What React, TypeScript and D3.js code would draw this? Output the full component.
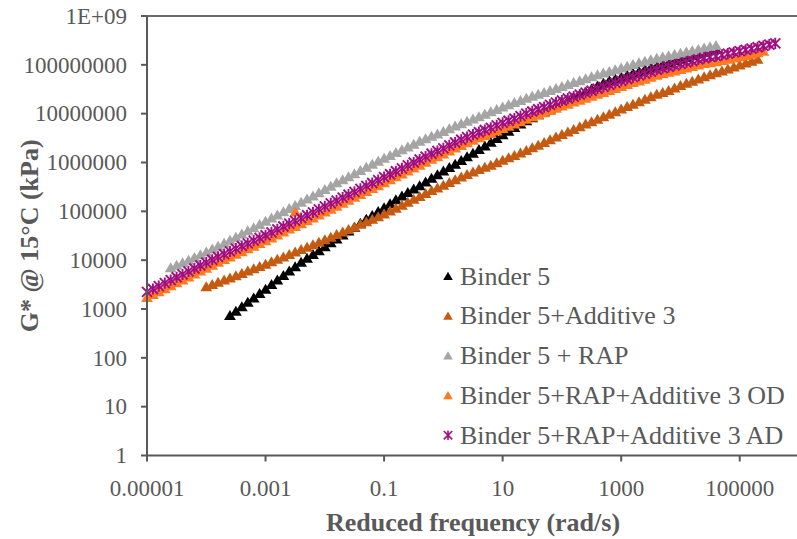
import React from "react";
import * as d3 from "d3";

const W = 797;
const H = 539;

const xTickValues = [1e-5, 1e-3, 1e-1, 10, 1000, 100000];
const xTickLabels = ["0.00001", "0.001", "0.1", "10", "1000", "100000"];
const yTickValues = [1, 10, 100, 1000, 1e4, 1e5, 1e6, 1e7, 1e8, 1e9];
const yTickLabels = ["1", "10", "100", "1000", "10000", "100000", "1000000", "10000000", "100000000", "1E+09"];

const seriesNames = [
  "Binder 5",
  "Binder 5+Additive 3",
  "Binder 5 + RAP",
  "Binder 5+RAP+Additive 3 OD",
  "Binder 5+RAP+Additive 3 AD",
];
const seriesColors = ["#000000", "#C55A11", "#A5A5A5", "#FF7A1F", "#A30D80"];
const seriesMarkers = ["triangle", "triangle", "triangle", "triangle", "asterisk"];

// reduced frequencies of the test sweep (rad/s), ten per decade
const freqGrid = [
  1e-5, 1.26e-5, 1.58e-5, 2e-5, 2.51e-5, 3.16e-5, 3.98e-5, 5.01e-5, 6.31e-5, 7.94e-5,
  1e-4, 1.26e-4, 1.58e-4, 2e-4, 2.51e-4, 3.16e-4, 3.98e-4, 5.01e-4, 6.31e-4, 7.94e-4,
  1e-3, 1.26e-3, 1.58e-3, 2e-3, 2.51e-3, 3.16e-3, 3.98e-3, 5.01e-3, 6.31e-3, 7.94e-3,
  0.01, 0.0126, 0.0158, 0.02, 0.0251, 0.0316, 0.0398, 0.0501, 0.0631, 0.0794,
  0.1, 0.126, 0.158, 0.2, 0.251, 0.316, 0.398, 0.501, 0.631, 0.794,
  1, 1.26, 1.58, 2, 2.51, 3.16, 3.98, 5.01, 6.31, 7.94,
  10, 12.6, 15.8, 20, 25.1, 31.6, 39.8, 50.1, 63.1, 79.4,
  100, 126, 158, 200, 251, 316, 398, 501, 631, 794,
  1000, 1260, 1580, 2000, 2510, 3160, 3980, 5010, 6310, 7940,
  1e4, 1.26e4, 1.58e4, 2e4, 2.51e4, 3.16e4, 3.98e4, 5.01e4, 6.31e4, 7.94e4,
  1e5, 1.26e5, 1.58e5, 2e5, 2.51e5, 3.16e5, 3.98e5,
];

// Binder 5 (2.51e-4 .. 3.98e4 rad/s)
const binder5Freq = freqGrid.slice(14, 97);
const binder5G = [
  7.41e2, 9.12e2, 1.12e3, 1.38e3, 1.7e3, 2.09e3, 2.57e3, 3.2e3, 3.98e3, 4.9e3,
  6.03e3, 7.41e3, 9.12e3, 1.1e4, 1.32e4, 1.58e4, 1.91e4, 2.29e4, 2.75e4, 3.31e4,
  3.98e4, 4.79e4, 5.75e4, 6.92e4, 8.32e4, 1.0e5, 1.2e5, 1.45e5, 1.74e5, 2.07e5,
  2.45e5, 2.88e5, 3.39e5, 4.03e5, 4.79e5, 5.69e5, 6.76e5, 7.94e5, 9.33e5, 1.11e6,
  1.32e6, 1.57e6, 1.86e6, 2.21e6, 2.63e6, 3.13e6, 3.72e6, 4.42e6, 5.25e6, 6.17e6,
  7.24e6, 8.32e6, 9.55e6, 1.1e7, 1.26e7, 1.45e7, 1.66e7, 1.88e7, 2.14e7, 2.45e7,
  2.82e7, 3.24e7, 3.72e7, 4.22e7, 4.79e7, 5.19e7, 5.62e7, 6.17e7, 6.76e7, 7.41e7,
  8.13e7, 8.81e7, 9.55e7, 1.04e8, 1.12e8, 1.22e8, 1.32e8, 1.43e8, 1.55e8, 1.68e8,
  1.82e8, 1.95e8, 2.09e8,
];

// Binder 5 + Additive 3 (1e-4 .. 2e5 rad/s)
const additiveFreq = freqGrid.slice(10, 104);
const additiveG = [
  2.88e3, 3.2e3, 3.55e3, 3.94e3, 4.37e3, 4.84e3, 5.37e3, 6.03e3, 6.76e3, 7.5e3,
  8.32e3, 9.33e3, 1.05e4, 1.17e4, 1.32e4, 1.48e4, 1.66e4, 1.86e4, 2.09e4, 2.34e4,
  2.63e4, 2.99e4, 3.39e4, 3.8e4, 4.27e4, 4.84e4, 5.5e4, 6.17e4, 6.92e4, 7.85e4,
  8.91e4, 1.02e5, 1.17e5, 1.35e5, 1.55e5, 1.78e5, 2.04e5, 2.34e5, 2.69e5, 3.05e5,
  3.47e5, 3.94e5, 4.47e5, 5.07e5, 5.75e5, 6.46e5, 7.24e5, 8.04e5, 8.91e5, 1.0e6,
  1.12e6, 1.26e6, 1.41e6, 1.58e6, 1.78e6, 2.02e6, 2.29e6, 2.6e6, 2.95e6, 3.35e6,
  3.8e6, 4.27e6, 4.79e6, 5.43e6, 6.17e6, 6.92e6, 7.76e6, 8.71e6, 9.77e6, 1.11e7,
  1.26e7, 1.41e7, 1.58e7, 1.78e7, 2.0e7, 2.24e7, 2.51e7, 2.75e7, 3.02e7, 3.39e7,
  3.8e7, 4.22e7, 4.68e7, 5.19e7, 5.75e7, 6.31e7, 6.92e7, 7.59e7, 8.32e7, 9.12e7,
  1.0e8, 1.1e8, 1.2e8, 1.32e8,
];

// Binder 5 + RAP (2.51e-5 .. 3.98e4 rad/s)
const rapFreq = freqGrid.slice(4, 97);
const rapG = [
  7.08e3, 7.94e3, 8.91e3, 1.01e4, 1.15e4, 1.3e4, 1.48e4, 1.7e4, 1.95e4, 2.24e4,
  2.57e4, 2.99e4, 3.47e4, 4.03e4, 4.68e4, 5.43e4, 6.31e4, 7.33e4, 8.51e4, 9.89e4,
  1.15e5, 1.33e5, 1.55e5, 1.8e5, 2.09e5, 2.43e5, 2.82e5, 3.31e5, 3.89e5, 4.47e5,
  5.13e5, 5.96e5, 6.92e5, 8.04e5, 9.33e5, 1.07e6, 1.23e6, 1.41e6, 1.62e6, 1.84e6,
  2.09e6, 2.4e6, 2.75e6, 3.09e6, 3.47e6, 3.89e6, 4.37e6, 4.95e6, 5.62e6, 6.31e6,
  7.08e6, 7.85e6, 8.71e6, 9.77e6, 1.1e7, 1.23e7, 1.38e7, 1.53e7, 1.7e7, 1.88e7,
  2.09e7, 2.29e7, 2.51e7, 2.75e7, 3.02e7, 3.31e7, 3.63e7, 3.98e7, 4.37e7, 4.79e7,
  5.25e7, 5.75e7, 6.31e7, 6.84e7, 7.41e7, 8.04e7, 8.71e7, 9.44e7, 1.02e8, 1.11e8,
  1.2e8, 1.29e8, 1.38e8, 1.46e8, 1.55e8, 1.64e8, 1.74e8, 1.84e8, 1.95e8, 2.09e8,
  2.24e8, 2.37e8, 2.51e8,
];

// Binder 5 + RAP + Additive 3 OD (1e-5 .. 2.51e5 rad/s) plus one stray point
const odFreq = [...freqGrid.slice(0, 105), 3.2e-3];
const odG = [
  1.74e3, 2.0e3, 2.29e3, 2.63e3, 3.02e3, 3.47e3, 3.98e3, 4.57e3, 5.25e3, 6.03e3,
  6.92e3, 7.94e3, 9.12e3, 1.04e4, 1.17e4, 1.33e4, 1.51e4, 1.72e4, 1.95e4, 2.21e4,
  2.51e4, 2.88e4, 3.31e4, 3.8e4, 4.37e4, 4.95e4, 5.62e4, 6.46e4, 7.41e4, 8.51e4,
  9.77e4, 1.12e5, 1.29e5, 1.48e5, 1.7e5, 1.95e5, 2.24e5, 2.57e5, 2.95e5, 3.39e5,
  3.89e5, 4.47e5, 5.13e5, 5.89e5, 6.76e5, 7.76e5, 8.91e5, 1.02e6, 1.17e6, 1.33e6,
  1.51e6, 1.74e6, 2.0e6, 2.26e6, 2.57e6, 2.88e6, 3.24e6, 3.59e6, 3.98e6, 4.47e6,
  5.01e6, 5.56e6, 6.17e6, 6.92e6, 7.76e6, 8.61e6, 9.55e6, 1.06e7, 1.17e7, 1.3e7,
  1.45e7, 1.58e7, 1.74e7, 1.91e7, 2.09e7, 2.29e7, 2.51e7, 2.75e7, 3.02e7, 3.31e7,
  3.63e7, 3.98e7, 4.37e7, 4.73e7, 5.13e7, 5.62e7, 6.17e7, 6.61e7, 7.08e7, 7.59e7,
  8.13e7, 8.71e7, 9.33e7, 1.0e8, 1.07e8, 1.12e8, 1.17e8, 1.24e8, 1.32e8, 1.4e8,
  1.48e8, 1.57e8, 1.66e8, 1.78e8, 1.91e8,
  9.8e4,
];

// Binder 5 + RAP + Additive 3 AD (1e-5 .. 3.98e5 rad/s)
const adFreq = freqGrid.slice(0, 107);
const adG = [
  2.24e3, 2.57e3, 2.95e3, 3.39e3, 3.89e3, 4.47e3, 5.13e3, 5.89e3, 6.76e3, 7.76e3,
  8.91e3, 1.02e4, 1.17e4, 1.33e4, 1.51e4, 1.72e4, 1.95e4, 2.21e4, 2.51e4, 2.85e4,
  3.24e4, 3.72e4, 4.27e4, 4.9e4, 5.62e4, 6.38e4, 7.24e4, 8.32e4, 9.55e4, 1.1e5,
  1.26e5, 1.45e5, 1.66e5, 1.91e5, 2.19e5, 2.51e5, 2.88e5, 3.31e5, 3.8e5, 4.37e5,
  5.01e5, 5.75e5, 6.61e5, 7.59e5, 8.71e5, 1.0e6, 1.15e6, 1.32e6, 1.51e6, 1.72e6,
  1.95e6, 2.24e6, 2.57e6, 2.92e6, 3.31e6, 3.72e6, 4.17e6, 4.62e6, 5.13e6, 5.75e6,
  6.46e6, 7.16e6, 7.94e6, 8.91e6, 1.0e7, 1.11e7, 1.23e7, 1.36e7, 1.51e7, 1.68e7,
  1.86e7, 2.04e7, 2.24e7, 2.45e7, 2.69e7, 2.95e7, 3.24e7, 3.55e7, 3.89e7, 4.27e7,
  4.68e7, 5.13e7, 5.62e7, 6.1e7, 6.61e7, 7.24e7, 7.94e7, 8.51e7, 9.12e7, 9.77e7,
  1.05e8, 1.12e8, 1.2e8, 1.29e8, 1.38e8, 1.45e8, 1.51e8, 1.6e8, 1.7e8, 1.8e8,
  1.91e8, 2.02e8, 2.14e8, 2.29e8, 2.45e8, 2.6e8, 2.75e8,
];

const seriesFreq = [binder5Freq, additiveFreq, rapFreq, odFreq, adFreq];
const seriesG = [binder5G, additiveG, rapG, odG, adG];

const plot = { left: 147, right: 799, top: 16, bottom: 455.5 };
const axisColor = "#595959";
const textColor = "#595959";
const font = "'Liberation Serif', 'Times New Roman', serif";

const TRI = "M0,-5.3L5.9,4.7L-5.9,4.7Z";
const TRI_LEG = "M0,-4.3L4.8,3.9L-4.8,3.9Z";

function Marker({ kind, color, x, y, legend }: any) {
  if (kind === "asterisk") {
    const r = legend ? 4.2 : 5;
    return (
      <g transform={`translate(${x},${y})`} stroke={color} strokeWidth={legend ? 1.6 : 1.9} fill="none">
        <path d={`M${-r},${-r}L${r},${r}M${-r},${r}L${r},${-r}M0,${-r - 0.6}L0,${r + 0.6}`} />
      </g>
    );
  }
  return <path d={legend ? TRI_LEG : TRI} transform={`translate(${x},${y})`} fill={color} />;
}

export default function App() {
  const x = d3.scaleLog().domain([1e-5, 1e6]).range([plot.left, plot.right]);
  const y = d3.scaleLog().domain([1, 1e9]).range([plot.bottom, plot.top]);

  const legendX = 448;
  const legendY0 = 276;
  const legendStep = 39.8;

  return (
    <svg
      width={W}
      height={H}
      style={{ position: "absolute", left: 0, top: 0, background: "#ffffff" }}
      fontFamily={font}
    >
      <rect x={0} y={0} width={W} height={H} fill="#ffffff" />
      <line x1={plot.left} x2={W} y1={plot.top} y2={plot.top} stroke="#6a6a6a" strokeWidth={2} />

      <g>
        {seriesFreq.map((fs, si) =>
          fs.map((f, i) => (
            <Marker
              key={`${si}-${i}`}
              kind={seriesMarkers[si]}
              color={seriesColors[si]}
              x={x(f)}
              y={y(seriesG[si][i])}
            />
          ))
        )}
      </g>

      <line x1={plot.left} x2={plot.left} y1={plot.top} y2={plot.bottom} stroke={axisColor} strokeWidth={2} />
      {yTickValues.map((v, i) => (
        <g key={`yt${i}`}>
          <line x1={plot.left - 6} x2={plot.left} y1={y(v)} y2={y(v)} stroke={axisColor} strokeWidth={2} />
          <text x={127} y={y(v)} dy="0.34em" textAnchor="end" fontSize={23} fill={textColor} fontFamily={font}>
            {yTickLabels[i]}
          </text>
        </g>
      ))}

      <line x1={plot.left} x2={W} y1={plot.bottom} y2={plot.bottom} stroke={axisColor} strokeWidth={2} />
      {xTickValues.map((v, i) => (
        <g key={`xt${i}`}>
          <line x1={x(v)} x2={x(v)} y1={plot.bottom} y2={plot.bottom + 6} stroke={axisColor} strokeWidth={2} />
          <text x={x(v)} y={496} textAnchor="middle" fontSize={23} fill={textColor} fontFamily={font}>
            {xTickLabels[i]}
          </text>
        </g>
      ))}

      <text x={473} y={531} textAnchor="middle" fontSize={26} fontWeight="bold" fill={textColor} fontFamily={font}>
        Reduced frequency (rad/s)
      </text>
      <text
        transform={`translate(38,${(plot.top + plot.bottom) / 2}) rotate(-90)`}
        textAnchor="middle"
        fontSize={26}
        fontWeight="bold"
        fill={textColor}
        fontFamily={font}
      >
        G* @ 15°C (kPa)
      </text>

      {seriesNames.map((name, i) => {
        const ly = legendY0 + i * legendStep;
        return (
          <g key={`lg${i}`}>
            <Marker kind={seriesMarkers[i]} color={seriesColors[i]} x={legendX} y={ly} legend />
            <text x={460} y={ly + 8.5} fontSize={26} fill={textColor} fontFamily={font}>
              {name}
            </text>
          </g>
        );
      })}
    </svg>
  );
}
